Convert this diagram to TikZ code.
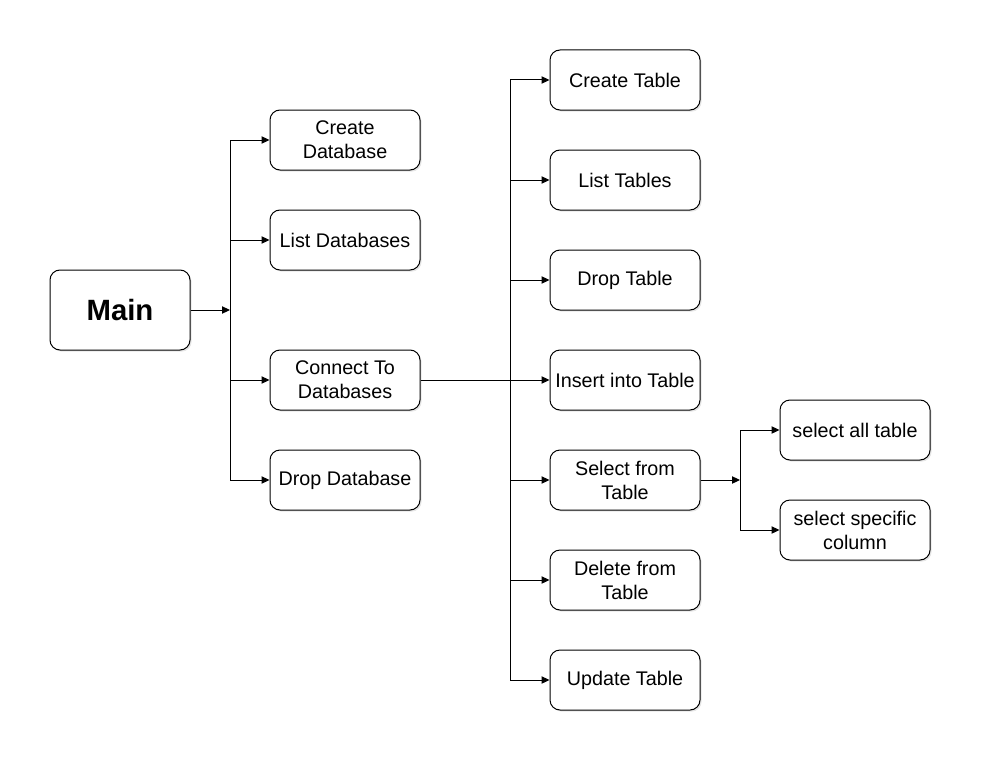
\documentclass[tikz,border=0pt]{standalone}
\usepackage{fontspec}
\setmainfont{Liberation Sans}
\usetikzlibrary{shadows,arrows.meta}
\tikzset{
  box/.style={draw, rounded corners=7.5pt, line width=0.75pt, fill=white,
    minimum width=112.5pt, minimum height=45pt, align=center, inner sep=1pt,
    font=\fontsize{14.8pt}{18pt}\selectfont,
    drop shadow={opacity=0.2, shadow xshift=1.2pt, shadow yshift=-1.2pt}},
  mainbox/.style={box, minimum width=105pt, minimum height=60pt, font=\bfseries\fontsize{22pt}{24pt}\selectfont},
  conn/.style={line width=0.75pt, -{Triangle[length=6pt,width=5.5pt]}},
  plain/.style={line width=0.75pt}
}
\begin{document}
\begin{tikzpicture}[x=0.75pt,y=-0.75pt]
\useasboundingbox (0,0) rectangle (988,767);
\node[mainbox] (main) at (120,310) {Main};
\node[box] (cdb) at (345,140) {Create\\Database};
\node[box] (ldb) at (345,240) {List Databases};
\node[box] (con) at (345,380) {Connect To\\Databases};
\node[box] (ddb) at (345,480) {Drop Database};
\node[box] (ct) at (625,80) {Create Table};
\node[box] (lt) at (625,180) {List Tables};
\node[box] (dt) at (625,280) {Drop Table};
\node[box] (it) at (625,380) {Insert into Table};
\node[box] (st) at (625,480) {Select from\\Table};
\node[box] (det) at (625,580) {Delete from\\Table};
\node[box] (ut) at (625,680) {Update Table};
\node[box] (sa) at (855,430) {select all table};
\node[box] (sc) at (855,530) {select specific\\column};
\coordinate (j1) at (230,310);
\coordinate (j1t) at (230,140);
\coordinate (j1b) at (230,480);
\coordinate (j2t) at (510,80);
\coordinate (j2b) at (510,680);
\coordinate (j3) at (740,480);
\coordinate (j3t) at (740,430);
\coordinate (j3b) at (740,530);
% left tree
\draw[conn] (main.east) -- (j1);
\draw[plain] (j1t) -- (j1b);
\draw[conn] (j1t) -- (cdb.west);
\draw[conn] (230,240) -- (ldb.west);
\draw[conn] (230,380) -- (con.west);
\draw[conn] (j1b) -- (ddb.west);
% middle tree
\draw[plain] (j2t) -- (j2b);
\draw[conn] (con.east) -- (it.west);
\draw[conn] (j2t) -- (ct.west);
\draw[conn] (510,180) -- (lt.west);
\draw[conn] (510,280) -- (dt.west);
\draw[conn] (510,480) -- (st.west);
\draw[conn] (510,580) -- (det.west);
\draw[conn] (j2b) -- (ut.west);
% right tree
\draw[conn] (st.east) -- (j3);
\draw[plain] (j3t) -- (j3b);
\draw[conn] (j3t) -- (sa.west);
\draw[conn] (j3b) -- (sc.west);
\end{tikzpicture}
\end{document}
